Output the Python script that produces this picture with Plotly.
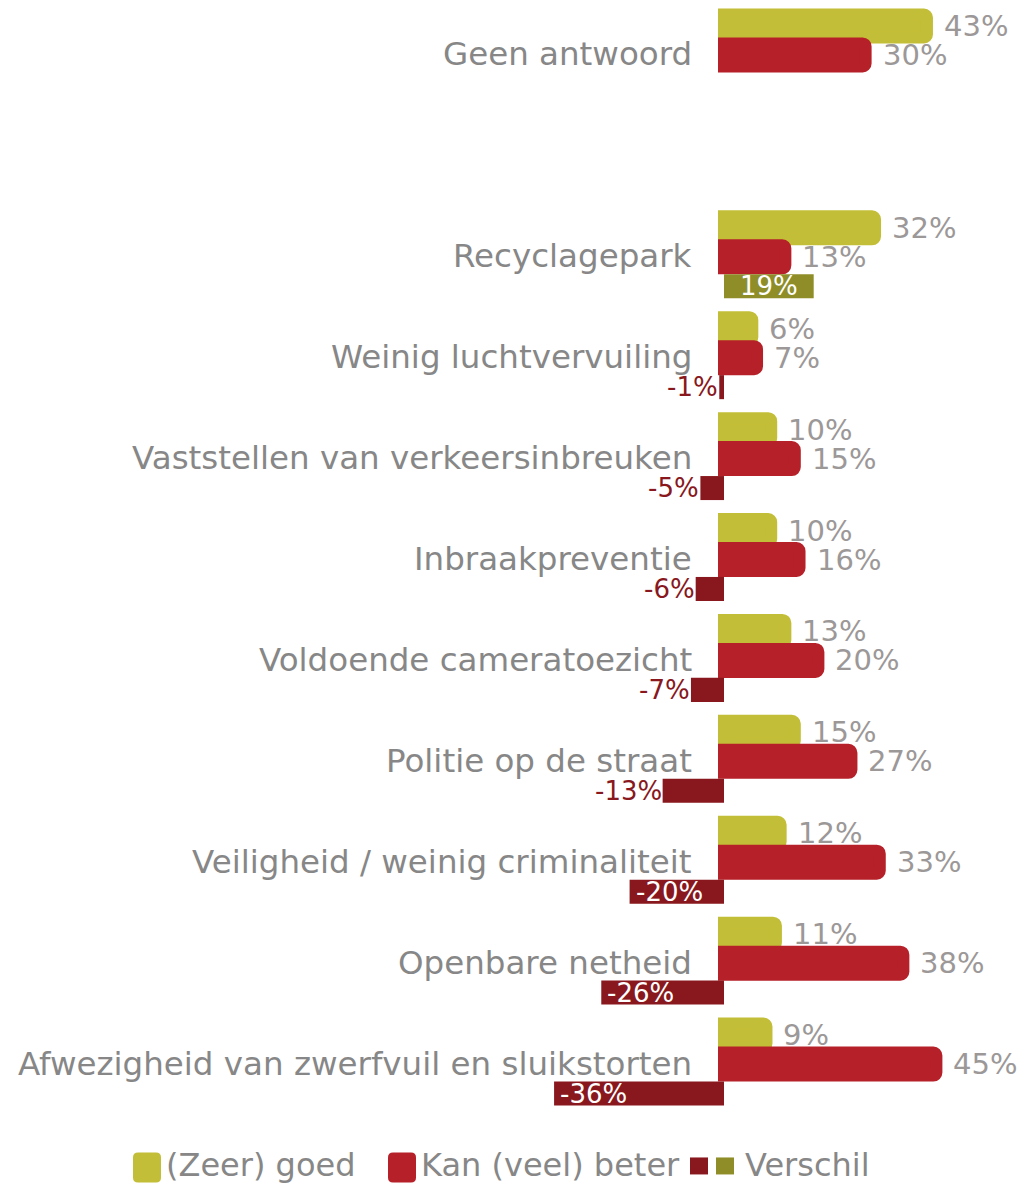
import plotly.graph_objects as go

categories = [
    "Geen antwoord",
    "Recyclagepark",
    "Weinig luchtvervuiling",
    "Vaststellen van verkeersinbreuken",
    "Inbraakpreventie",
    "Voldoende cameratoezicht",
    "Politie op de straat",
    "Veiligheid / weinig criminaliteit",
    "Openbare netheid",
    "Afwezigheid van zwerfvuil en sluikstorten",
]
goed = [43, 32, 6, 10, 10, 13, 15, 12, 11, 9]
beter = [30, 13, 7, 15, 16, 20, 27, 33, 38, 45]
verschil = [None, 19, -1, -5, -6, -7, -13, -20, -26, -36]

series_names = ["(Zeer) goed", "Kan (veel) beter", "Verschil"]

C_GOED = "#C3BE37"
C_BETER = "#B62029"
C_NEG = "#88181D"
C_POS = "#8E8D27"
GRAY = "#9c9898"
LABEL_GRAY = "#878787"
FONT = "DejaVu Sans"

W, H = 1025, 1184
M_T, M_B = 3.5, 69.5
PH = H - M_T - M_B

# vertical positions: blank slot after "Geen antwoord"
pos = [0] + list(range(2, 2 + len(categories) - 1))

OFF_GOED, OFF_BETER, OFF_DIFF = -0.396, -0.109, 0.178
BW_MAIN, BW_DIFF = 0.228, 0.238

fig = go.Figure()

fig.add_trace(go.Bar(
    y=pos, x=goed, orientation="h", name=series_names[0],
    marker=dict(color=C_GOED, line=dict(color=C_GOED, width=12), cornerradius=3),
    width=BW_MAIN, offset=OFF_GOED, showlegend=False, hoverinfo="x+name",
))
fig.add_trace(go.Bar(
    y=pos, x=beter, orientation="h", name=series_names[1],
    marker=dict(color=C_BETER, line=dict(color=C_BETER, width=12), cornerradius=3),
    width=BW_MAIN, offset=OFF_BETER, showlegend=False, hoverinfo="x+name",
))

d_pos = pos[1:]
d_vals = verschil[1:]
fig.add_trace(go.Bar(
    y=d_pos, x=d_vals, orientation="h", name=series_names[2],
    marker=dict(color=[C_POS if v > 0 else C_NEG for v in d_vals], line=dict(width=0)),
    width=BW_DIFF, offset=OFF_DIFF, showlegend=False, hoverinfo="x+name",
))

annotations = []
# category labels
for c, p in zip(categories, pos):
    annotations.append(dict(
        x=0, y=p, xref="x", yref="y", text=c, showarrow=False,
        xanchor="right", yanchor="middle", xshift=-30,
        font=dict(family=FONT, size=32.5, color=LABEL_GRAY),
    ))

# value labels for main bars
for vals, off in ((goed, OFF_GOED), (beter, OFF_BETER)):
    for v, p in zip(vals, pos):
        annotations.append(dict(
            x=v, y=p + off + BW_MAIN / 2, xref="x", yref="y", text=f"{v}%",
            showarrow=False, xanchor="left", yanchor="middle", xshift=15,
            font=dict(family=FONT, size=29, color=GRAY),
        ))

# value labels for difference bars
for v, p in zip(d_vals, d_pos):
    yc = p + OFF_DIFF + BW_DIFF / 2
    if v > 0:
        annotations.append(dict(x=v / 2, y=yc, xref="x", yref="y", text=f"{v}%",
                                showarrow=False, xanchor="center", yanchor="middle",
                                font=dict(family=FONT, size=26, color="white")))
    elif abs(v) >= 15:
        annotations.append(dict(x=v, y=yc, xref="x", yref="y", text=f"{v}%",
                                showarrow=False, xanchor="left", yanchor="middle", xshift=4,
                                font=dict(family=FONT, size=26, color="white")))
    else:
        annotations.append(dict(x=v, y=yc, xref="x", yref="y", text=f"{v}%",
                                showarrow=False, xanchor="right", yanchor="middle", xshift=1,
                                font=dict(family=FONT, size=26, color=C_NEG)))


def px_x(x):
    return x / W


def px_y(y):
    return (H - y - M_B) / PH


def rounded_rect(x0, y0, x1, y1, r):
    # pixel coords -> paper path
    rx = r / W
    ry = r / PH
    a, b, c, d = px_x(x0), px_y(y1), px_x(x1), px_y(y0)  # left, bottom, right, top
    return (f"M{a + rx},{b} L{c - rx},{b} Q{c},{b} {c},{b + ry} "
            f"L{c},{d - ry} Q{c},{d} {c - rx},{d} L{a + rx},{d} Q{a},{d} {a},{d - ry} "
            f"L{a},{b + ry} Q{a},{b} {a + rx},{b} Z")


LEG_YC = 1166
shapes = []
# legend: (Zeer) goed
shapes.append(dict(type="path", xref="paper", yref="paper",
                   path=rounded_rect(133, 1153, 161, 1183, 5), fillcolor=C_GOED, line=dict(width=0)))
annotations.append(dict(x=px_x(164), y=px_y(LEG_YC), xref="paper", yref="paper", text=series_names[0],
                        showarrow=False, xanchor="left", yanchor="middle",
                        font=dict(family=FONT, size=32, color=LABEL_GRAY)))
# legend: Kan (veel) beter
shapes.append(dict(type="path", xref="paper", yref="paper",
                   path=rounded_rect(388, 1153, 416, 1183, 5), fillcolor=C_BETER, line=dict(width=0)))
annotations.append(dict(x=px_x(419), y=px_y(LEG_YC), xref="paper", yref="paper", text=series_names[1],
                        showarrow=False, xanchor="left", yanchor="middle",
                        font=dict(family=FONT, size=32, color=LABEL_GRAY)))
# legend: Verschil (two swatches)
shapes.append(dict(type="rect", xref="paper", yref="paper",
                   x0=px_x(690), x1=px_x(708), y0=px_y(1175), y1=px_y(1158),
                   fillcolor=C_NEG, line=dict(width=0)))
shapes.append(dict(type="rect", xref="paper", yref="paper",
                   x0=px_x(716), x1=px_x(734), y0=px_y(1175), y1=px_y(1158),
                   fillcolor=C_POS, line=dict(width=0)))
annotations.append(dict(x=px_x(743), y=px_y(LEG_YC), xref="paper", yref="paper", text=series_names[2],
                        showarrow=False, xanchor="left", yanchor="middle",
                        font=dict(family=FONT, size=32, color=LABEL_GRAY)))

px_per = 4.72
zero_px = 724
fig.update_layout(
    width=W, height=H,
    margin=dict(l=0, r=0, t=M_T, b=M_B),
    paper_bgcolor="white", plot_bgcolor="white",
    barmode="overlay",
    xaxis=dict(range=[-zero_px / px_per, (W - zero_px) / px_per],
               visible=False, fixedrange=True),
    yaxis=dict(range=[10.5, -0.5], visible=False, fixedrange=True),
    annotations=annotations,
    shapes=shapes,
    font=dict(family=FONT),
)

fig.write_html("out.html", config={"displayModeBar": False},
               post_script="document.body.style.margin='0';")
